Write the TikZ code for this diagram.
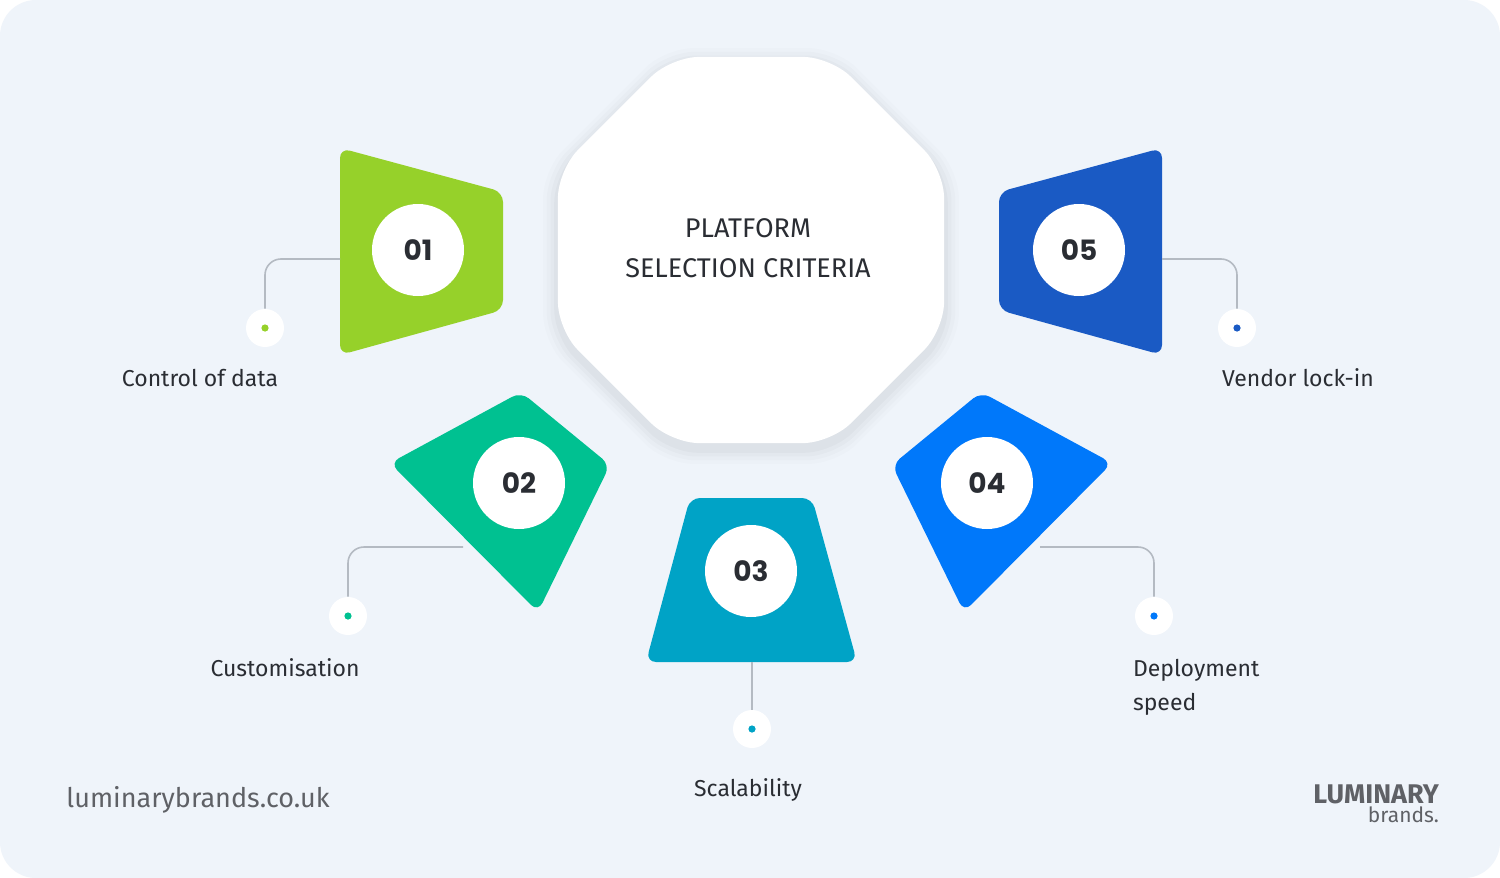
\documentclass[tikz,border=0pt]{standalone}
\usepackage{fontspec}
\setmainfont{Fira Sans}
\newfontfamily\numf{Poppins}
\usetikzlibrary{calc}
\definecolor{bg}{HTML}{EFF4FA}
\definecolor{cA}{HTML}{96D12A}
\definecolor{cB}{HTML}{00C191}
\definecolor{cC}{HTML}{00A3C6}
\definecolor{cD}{HTML}{0078FA}
\definecolor{cE}{HTML}{1A5AC4}
\definecolor{txt}{HTML}{2A2D33}
\definecolor{ln}{HTML}{B4BAC2}
\tikzset{x=0.5pt,y=-0.5pt,
 shp/.style={rounded corners=5pt},
 num/.style={circle,fill=white,minimum size=46pt,inner sep=0,font=\numf\bfseries\fontsize{14}{14}\selectfont,text=txt},
 dotc/.style={circle,fill=white,minimum size=19pt,inner sep=0},
 lab/.style={font=\fontsize{11.5}{17}\selectfont,text=txt},
 con/.style={draw=ln,line width=0.8pt,rounded corners=8pt}}
\begin{document}
\begin{tikzpicture}
\useasboundingbox (0,0) rectangle (1500,878);
\fill[white] (0,0) rectangle (1500,878);
\fill[bg,rounded corners=18pt] (0,0) rectangle (1500,878);
% octagon shadow + shape
\foreach \o/\op in {16/0.012,12/0.015,8/0.02,4/0.025}{
 \fill[black,opacity=\op,rounded corners=14pt] ($(751,256)+(22.5:{209+\o})$) \foreach \k in {1,...,7}{-- ($(751,256)+({22.5+45*\k}:{209+\o})$)} -- cycle;}
\fill[white,rounded corners=14pt] ($(751,250)+(22.5:209)$) \foreach \k in {1,...,7}{-- ($(751,250)+({22.5+45*\k}:209)$)} -- cycle;
\node[font=\fontsize{13.5}{20}\selectfont,text=txt,align=center] (title) at (748,248) {PLATFORM\\SELECTION CRITERIA};
% shapes
\fill[cA,shp] (340,148) -- (503,192) -- (503,310) -- (340,355) -- cycle;
\fill[cE,shp] (1162,148) -- (999,192) -- (999,310) -- (1162,355) -- cycle;
\fill[cB,shp] (390,463) -- (521,392) -- (610,465) -- (538,612) -- cycle;
\fill[cD,shp] (1112,463) -- (981,392) -- (892,465) -- (964,612) -- cycle;
\fill[cC,shp] (690,498) -- (812,498) -- (857,662) -- (646,662) -- cycle;
\node[num] (n1) at (418,250) {01};
\node[num] (n2) at (519,483) {02};
\node[num] (n3) at (751,571) {03};
\node[num] (n4) at (987,483) {04};
\node[num] (n5) at (1079,250) {05};
% connectors
\coordinate (s1) at (340,259); \coordinate (s2) at (463,547); \coordinate (s3) at (752,662);
\coordinate (s4) at (1040,547); \coordinate (s5) at (1162,259);
\node[dotc] (d1) at (265,328) {}; \node[dotc] (d2) at (348,616) {}; \node[dotc] (d3) at (752,729) {};
\node[dotc] (d4) at (1154,616) {}; \node[dotc] (d5) at (1237,328) {};
\draw[con] (s1) -| (d1.north);
\draw[con] (s2) -| (d2.north);
\draw[con] (s3) -- (d3.north);
\draw[con] (s4) -| (d4.north);
\draw[con] (s5) -| (d5.north);
\fill[cA] (d1) circle (1.8pt); \fill[cB] (d2) circle (1.8pt); \fill[cC] (d3) circle (1.8pt);
\fill[cD] (d4) circle (1.8pt); \fill[cE] (d5) circle (1.8pt);
\node[lab] (l1) at (200,378) {Control of data};
\node[lab] (l2) at (285,668) {Customisation};
\node[lab] (l3) at (748,790) {Scalability};
\node[lab,align=left,anchor=north west] (l4) at (1126,652) {Deployment\\speed};
\node[lab] (l5) at (1298,378) {Vendor lock-in};
\node[font=\fontsize{13.5}{14}\selectfont,text=txt!75] (web) at (198,800) {luminarybrands.co.uk};
\node[font=\fontsize{13.5}{13}\selectfont\bfseries,text=txt!75,anchor=east] (logo1) at (1446,794) {LUMINARY};
\node[font=\fontsize{10.5}{11}\selectfont,text=txt!75,anchor=east] (logo2) at (1446,815) {brands.};
\end{tikzpicture}
\end{document}
